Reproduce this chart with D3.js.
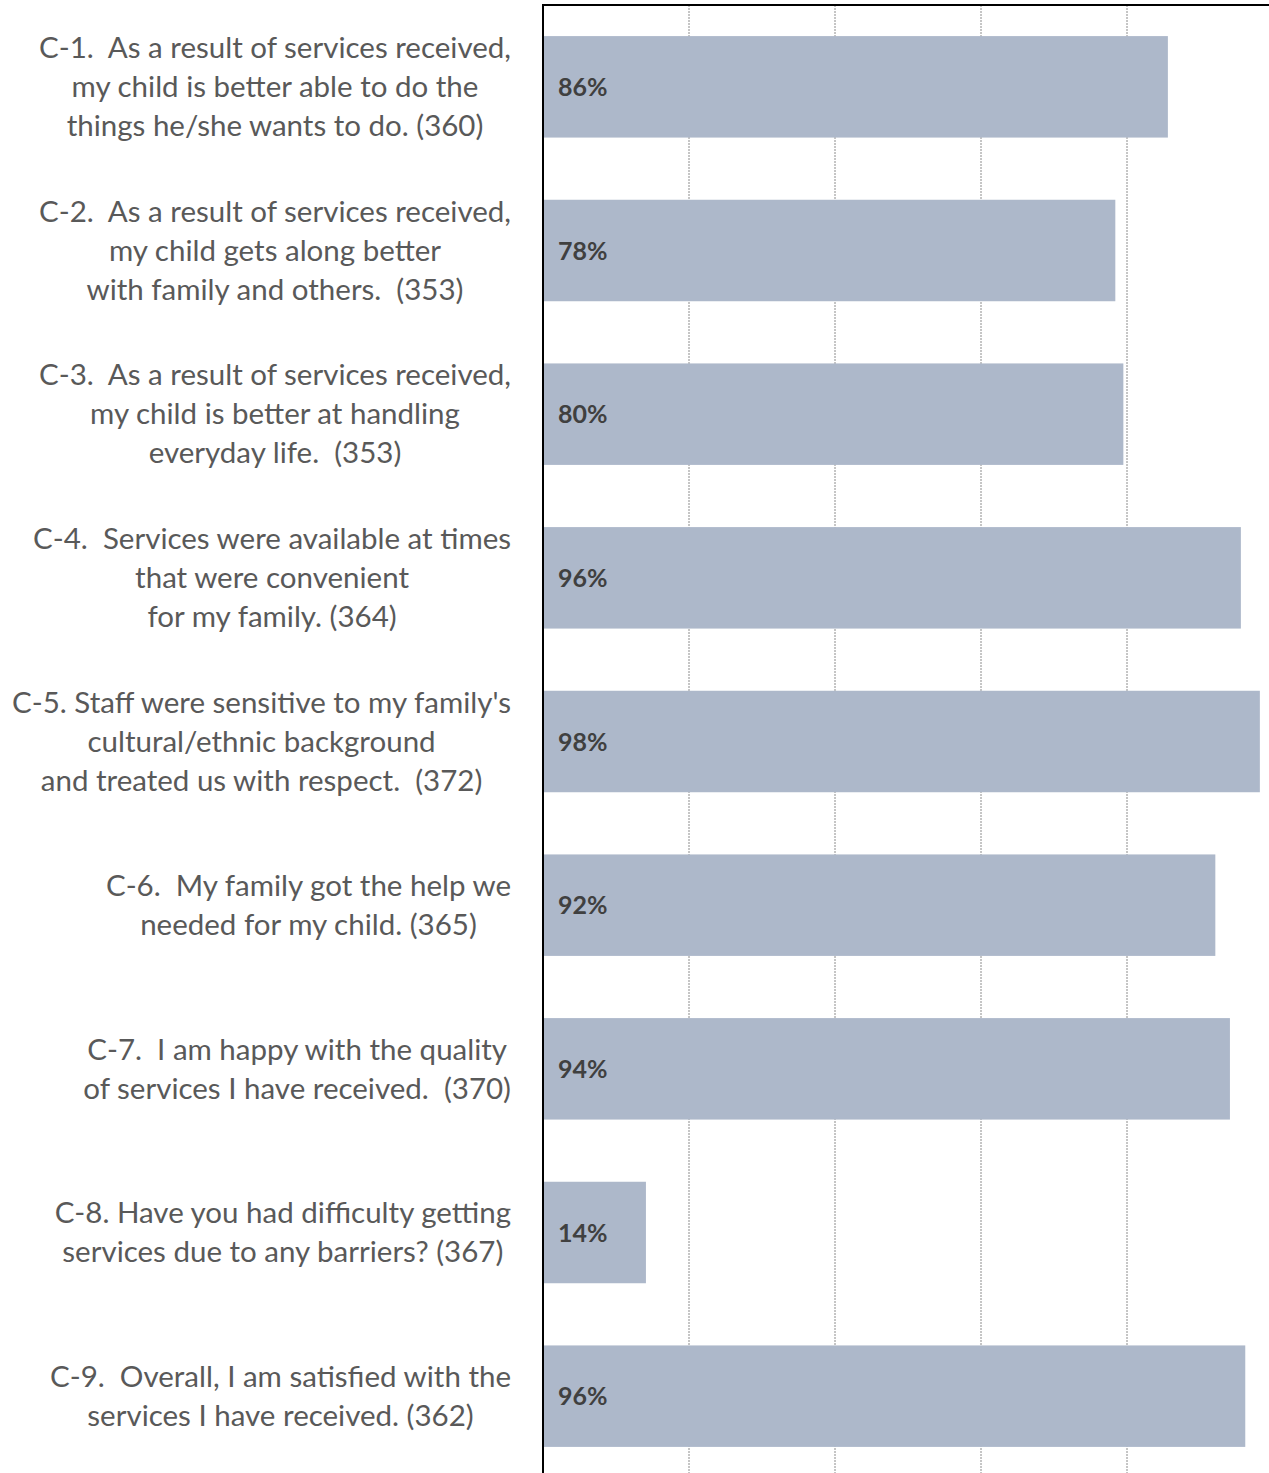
<!DOCTYPE html>
<html>
<head>
<meta charset="utf-8">
<script src="https://cdn.jsdelivr.net/npm/d3@7"></script>
<style>
  html, body { margin: 0; padding: 0; background: #fff; }
  svg { display: block; }
  text { white-space: pre; }
</style>
</head>
<body>
<svg id="chart" width="1269" height="1473"></svg>
<script>
// ---- data ----
const categories = ["C-1", "C-2", "C-3", "C-4", "C-5", "C-6", "C-7", "C-8", "C-9"];
const categoryLines = [
  ["C-1.  As a result of services received,", "my child is better able to do the", "things he/she wants to do. (360)"],
  ["C-2.  As a result of services received,", "my child gets along better", "with family and others.  (353)"],
  ["C-3.  As a result of services received,", "my child is better at handling", "everyday life.  (353)"],
  ["C-4.  Services were available at times", "that were convenient", "for my family. (364)"],
  ["C-5. Staff were sensitive to my family's", "cultural/ethnic background", "and treated us with respect.  (372)"],
  ["C-6.  My family got the help we", "needed for my child. (365)"],
  ["C-7.  I am happy with the quality", "of services I have received.  (370)"],
  ["C-8. Have you had difficulty getting", "services due to any barriers? (367)"],
  ["C-9.  Overall, I am satisfied with the", "services I have received. (362)"]
];
const values = [0.856, 0.784, 0.795, 0.956, 0.982, 0.921, 0.941, 0.141, 0.962];
const valueLabels = ["86%", "78%", "80%", "96%", "98%", "92%", "94%", "14%", "96%"];
const gridTicks = [0.2, 0.4, 0.6, 0.8, 1.0];

// ---- layout ----
const W = 1269, H = 1473;
const plotLeft = 543, plotRight = 1273, plotTop = 5, plotBottom = 1478;
const svg = d3.select("#chart");

const x = d3.scaleLinear().domain([0, 1]).range([plotLeft, plotRight]);
const y = d3.scaleBand().domain(categories).range([plotTop, plotBottom])
  .paddingInner(0.38).paddingOuter(0.19);

// gridlines
svg.append("g")
  .selectAll("line")
  .data(gridTicks)
  .join("line")
  .attr("x1", d => x(d)).attr("x2", d => x(d))
  .attr("y1", plotTop).attr("y2", H)
  .attr("stroke", "#8c8c8c")
  .attr("stroke-width", 1)
  .attr("stroke-dasharray", "2,1");

// bars
svg.append("g")
  .selectAll("rect")
  .data(categories)
  .join("rect")
  .attr("x", x(0))
  .attr("y", d => y(d))
  .attr("width", (d, i) => x(values[i]) - x(0))
  .attr("height", y.bandwidth())
  .attr("fill", "#adb8ca");

// value labels
svg.append("g")
  .selectAll("text")
  .data(categories)
  .join("text")
  .attr("x", x(0) + 15)
  .attr("y", d => y(d) + y.bandwidth() / 2)
  .attr("dy", "0.36em")
  .attr("font-family", "Lato, 'Open Sans', sans-serif")
  .attr("font-weight", "bold")
  .attr("font-size", 25)
  .attr("fill", "#404040")
  .text((d, i) => valueLabels[i]);

// axes frame: top border and left axis
svg.append("line")
  .attr("x1", plotLeft).attr("x2", W)
  .attr("y1", plotTop).attr("y2", plotTop)
  .attr("stroke", "#000").attr("stroke-width", 2);
svg.append("line")
  .attr("x1", plotLeft).attr("x2", plotLeft)
  .attr("y1", plotTop - 1).attr("y2", H)
  .attr("stroke", "#000").attr("stroke-width", 2);

// category labels: centered lines, block right-aligned at 511
const lineH = 39;
const labelRight = 511;
categories.forEach((c, i) => {
  const lines = categoryLines[i];
  const cy = y(c) + y.bandwidth() / 2;
  const g = svg.append("g");
  const texts = g.selectAll("text")
    .data(lines)
    .join("text")
    .attr("x", 0)
    .attr("y", (d, j) => cy + (j - (lines.length - 1) / 2) * lineH)
    .attr("dy", "0.35em")
    .attr("text-anchor", "middle")
    .attr("font-family", "Lato, 'Open Sans', sans-serif")
    .attr("font-size", 29.5)
    .attr("fill", "#595959")
    .text(d => d);
  let maxW = 0;
  texts.each(function () { maxW = Math.max(maxW, this.getComputedTextLength()); });
  g.attr("transform", `translate(${labelRight - maxW / 2},0)`);
});
</script>
</body>
</html>
